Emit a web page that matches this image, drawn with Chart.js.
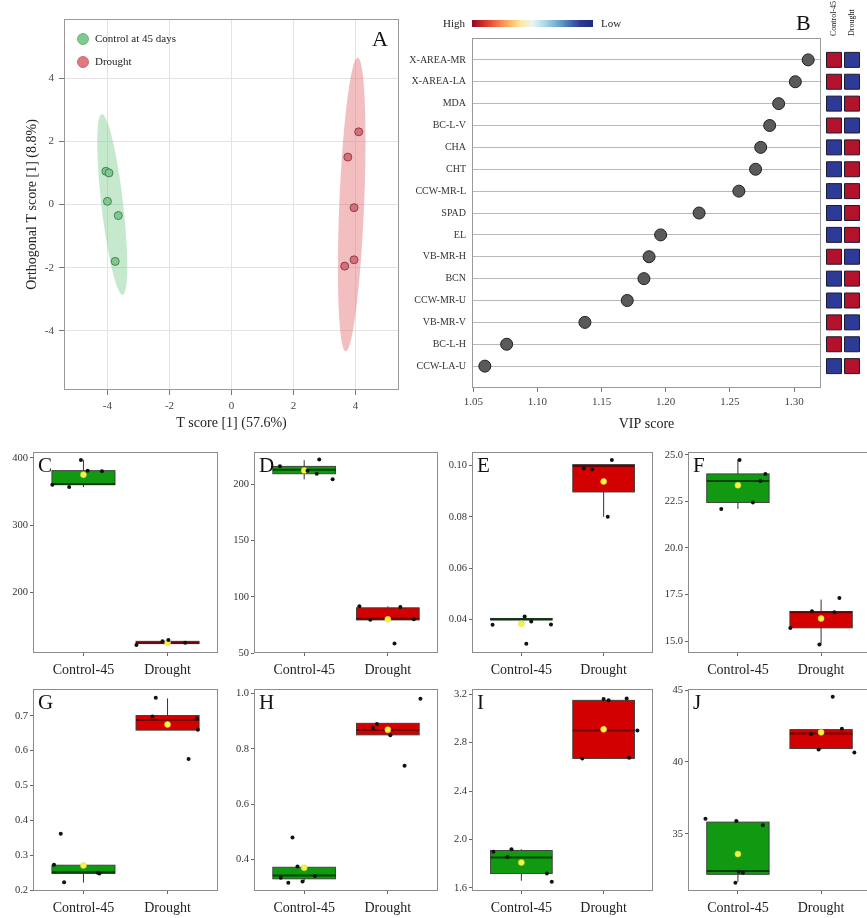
<!DOCTYPE html>
<html>
<head>
<meta charset="utf-8">
<script src="https://cdn.jsdelivr.net/npm/chart.js@4.4.1/dist/chart.umd.min.js"></script>
<style>
  html, body { margin: 0; padding: 0; background: #fff; }
  body { position: relative; width: 867px; height: 918px; overflow: hidden; }
</style>
</head>
<body>
<script>
// ---- A: OPLS-DA scores ----
const controlScores = [[-4.05, 1.05], [-3.95, 1.0], [-4.0, 0.1], [-3.65, -0.35], [-3.75, -1.8]];
const droughtScores = [[4.1, 2.3], [3.75, 1.5], [3.95, -0.1], [3.95, -1.75], [3.65, -1.95]];
// centre x, centre y, half length, half width, tilt from vertical (deg)
const controlEllipse = [-3.845, 0.0, 2.88, 0.35, -6.7];
const droughtEllipse = [3.875, 0.0, 4.65, 0.40, 2.4];

// ---- B: VIP scores ----
const vipVars = ['X-AREA-MR', 'X-AREA-LA', 'MDA', 'BC-L-V', 'CHA', 'CHT', 'CCW-MR-L', 'SPAD',
  'EL', 'VB-MR-H', 'BCN', 'CCW-MR-U', 'VB-MR-V', 'BC-L-H', 'CCW-LA-U'];
const vipScores = [1.311, 1.301, 1.288, 1.281, 1.274, 1.270, 1.257, 1.226,
  1.196, 1.187, 1.183, 1.170, 1.137, 1.076, 1.059];
const heatGroups = ['Control-45', 'Drought'];
const heatControl = [1, 1, 0, 1, 0, 0, 0, 0, 0, 1, 0, 0, 1, 1, 0];  // 1 = high
const heatDrought = [0, 0, 1, 0, 1, 1, 1, 1, 1, 0, 1, 1, 0, 0, 1];

// ---- C-J: box plots ----
const groups = ['Control-45', 'Drought'];
// per group: [lower whisker, q1, median, q3, upper whisker]
const statsC = [[356.5, 360, 361, 381, 397], [121.5, 123.5, 125, 127, 129]];
const meansC = [375, 125];
const ptsC = [[0.63, 360], [0.83, 356.5], [0.97, 397], [1.05, 381], [1.22, 380],
  [1.63, 121.5], [1.94, 127], [2.01, 129], [2.21, 125]];
const axisC = [109.6, 408.3, 0];  // min, max, decimals
const ticksC = [200, 300, 400];

const statsD = [[204.4, 209.4, 213, 216, 221.5], [79.4, 79.4, 80.5, 90.2, 91.5]];
const meansD = [212.3, 80];
const ptsD = [[0.71, 216], [1.04, 212], [1.15, 209.5], [1.18, 222], [1.34, 204.5],
  [1.66, 91.5], [1.79, 79.5], [2.15, 91], [2.31, 80], [2.08, 58.5]];
const axisD = [50, 228.5, 0];
const ticksD = [50, 100, 150, 200];

const statsE = [[0.0397, 0.0397, 0.04, 0.0403, 0.0403], [0.080, 0.0897, 0.0998, 0.1004, 0.1004]];
const meansE = [0.0382, 0.0938];
const ptsE = [[0.65, 0.0378], [1.04, 0.0411], [1.12, 0.0391], [1.36, 0.0379], [1.06, 0.0304],
  [1.76, 0.0989], [1.86, 0.0985], [2.1, 0.1022], [2.05, 0.080]];
const axisE = [0.0268, 0.1052, 2];
const ticksE = [0.04, 0.06, 0.08, 0.10];

const statsF = [[22.1, 22.44, 23.6, 23.98, 24.73], [14.82, 15.71, 16.55, 16.59, 17.23]];
const meansF = [23.37, 16.21];
const ptsF = [[0.8, 22.1], [1.02, 24.73], [1.18, 22.45], [1.27, 23.6], [1.33, 23.98],
  [1.63, 15.7], [1.89, 16.6], [1.98, 14.82], [2.16, 16.55], [2.22, 17.32]];
const axisF = [14.36, 25.14, 1];
const ticksF = [15, 17.5, 20, 22.5, 25];

const statsG = [[0.222, 0.248, 0.252, 0.272, 0.272], [0.659, 0.659, 0.688, 0.701, 0.75]];
const meansG = [0.271, 0.675];
const ptsG = [[0.65, 0.273], [0.73, 0.362], [0.77, 0.223], [1.17, 0.25], [1.19, 0.248],
  [1.86, 0.752], [1.82, 0.698], [2.35, 0.693], [2.36, 0.66], [2.25, 0.576]];
const axisG = [0.198, 0.776, 1];
const ticksG = [0.2, 0.3, 0.4, 0.5, 0.6, 0.7];

const statsH = [[0.32, 0.330, 0.342, 0.372, 0.372], [0.85, 0.851, 0.869, 0.893, 0.893]];
const meansH = [0.370, 0.87];
const ptsH = [[0.72, 0.334], [0.86, 0.48], [0.92, 0.375], [0.81, 0.316], [1.13, 0.34], [0.98, 0.32],
  [1.82, 0.876], [1.87, 0.89], [2.03, 0.85], [2.2, 0.739], [2.39, 0.982]];
const axisH = [0.286, 1.016, 1];
const ticksH = [0.4, 0.6, 0.8, 1.0];

const statsI = [[1.66, 1.719, 1.851, 1.91, 1.92], [2.67, 2.67, 2.90, 3.15, 3.165]];
const meansI = [1.81, 2.91];
const ptsI = [[0.66, 1.9], [0.88, 1.92], [0.83, 1.855], [1.31, 1.72], [1.37, 1.652],
  [1.74, 2.67], [2.0, 3.16], [2.06, 3.15], [2.28, 3.165], [2.31, 2.675], [2.41, 2.90]];
const axisI = [1.575, 3.241, 1];
const ticksI = [1.6, 2.0, 2.4, 2.8, 3.2];

const statsJ = [[31.67, 32.19, 32.42, 35.82, 35.95], [40.86, 40.93, 41.97, 42.25, 42.3]];
const meansJ = [33.6, 42.06];
const ptsJ = [[0.61, 36.05], [0.98, 35.9], [1.3, 35.6], [1.01, 32.37], [1.06, 32.3], [0.97, 31.6],
  [2.14, 44.53], [1.88, 41.95], [1.97, 40.86], [2.25, 42.3], [2.4, 40.65]];
const axisJ = [31.03, 45.05, 0];
const ticksJ = [35, 40, 45];

// layout of the small panels (plot area, px)
const panelLeft = [33, 254, 472, 688];
const panelW = [185, 184, 181, 183];
const panelTop = [452, 689];
const panelH = [201, 202];
const boxHalf = 0.375;
const boxFill = ['#119a11', '#d30000'];
const medianColor = ['rgba(0,45,0,0.8)', 'rgba(80,0,0,0.75)'];

const serif = "'Liberation Serif', 'Times New Roman', serif";
Chart.defaults.font.family = serif;
Chart.defaults.color = '#333';
Chart.defaults.animation = false;
Chart.defaults.events = [];
Chart.defaults.layout.autoPadding = false;
Chart.defaults.plugins.legend.display = false;
Chart.defaults.plugins.tooltip.enabled = false;

function makeCanvas(left, top, w, h) {
  const c = document.createElement('canvas');
  c.width = w;
  c.height = h;
  c.style.cssText = 'position:absolute;left:' + left + 'px;top:' + top + 'px;width:' + w + 'px;height:' + h + 'px';
  document.body.appendChild(c);
  return c;
}

function toXY(list) {
  return list.map(p => ({x: p[0], y: p[1]}));
}

function drawFrame(chart, color) {
  const {ctx, chartArea: a} = chart;
  ctx.save();
  ctx.strokeStyle = color;
  ctx.lineWidth = 1;
  ctx.strokeRect(Math.round(a.left) + 0.5, Math.round(a.top) + 0.5,
    Math.round(a.right - a.left) - 1, Math.round(a.bottom - a.top) - 1);
  ctx.restore();
}

// ---------- A ----------
const scoreExtras = {
  id: 'scoreExtras',
  beforeDatasetsDraw(chart) {
    const {ctx, scales: {x, y}} = chart;
    ctx.save();
    [[controlEllipse, 'rgba(120,200,135,0.42)'], [droughtEllipse, 'rgba(228,110,116,0.45)']].forEach(([e, col]) => {
      const [cx, cy, a, b, tilt] = e;
      const th = tilt * Math.PI / 180;
      ctx.beginPath();
      for (let k = 0; k <= 90; k++) {
        const t = k / 90 * 2 * Math.PI;
        const u = a * Math.cos(t), v = b * Math.sin(t);
        const px = x.getPixelForValue(cx + u * Math.sin(th) + v * Math.cos(th));
        const py = y.getPixelForValue(cy + u * Math.cos(th) - v * Math.sin(th));
        if (k) ctx.lineTo(px, py); else ctx.moveTo(px, py);
      }
      ctx.closePath();
      ctx.fillStyle = col;
      ctx.fill();
    });
    ctx.restore();
  },
  afterDraw(chart) {
    const {ctx} = chart;
    drawFrame(chart, '#9a9a9a');
    ctx.save();
    const items = [['Control at 45 days', '#7fcb8f', '#5ea86d'], ['Drought', '#e07a80', '#b85a60']];
    items.forEach(([label, fill, edge], i) => {
      const cy = 39 + i * 23;
      ctx.beginPath();
      ctx.arc(83, cy, 5.5, 0, 2 * Math.PI);
      ctx.fillStyle = fill;
      ctx.fill();
      ctx.strokeStyle = edge;
      ctx.lineWidth = 0.8;
      ctx.stroke();
      ctx.fillStyle = '#222';
      ctx.font = '11px ' + serif;
      ctx.textAlign = 'left';
      ctx.textBaseline = 'middle';
      ctx.fillText(label, 95, cy + 0.5);
    });
    ctx.font = '22px ' + serif;
    ctx.fillStyle = '#111';
    ctx.fillText('A', 372, 40);
    ctx.restore();
  }
};

new Chart(makeCanvas(0, 0, 410, 440), {
  type: 'scatter',
  data: {
    datasets: [
      {data: toXY(controlScores), backgroundColor: '#7fc990', borderColor: '#3a6a44', borderWidth: 0.8, pointRadius: 4},
      {data: toXY(droughtScores), backgroundColor: '#d66f77', borderColor: '#773036', borderWidth: 0.8, pointRadius: 4}
    ]
  },
  options: {
    responsive: false,
    layout: {padding: {top: 19, right: 11}},
    scales: {
      x: {
        min: -5.4, max: 5.4,
        afterFit: s => { s.height = 50; },
        ticks: {stepSize: 2, includeBounds: false, padding: 5, font: {size: 11}, color: '#444'},
        grid: {color: '#e3e3e3', tickColor: '#777', tickLength: 5},
        border: {display: false},
        title: {display: true, text: 'T score [1] (57.6%)', font: {size: 14}, color: '#222', padding: {top: 0, bottom: 8}}
      },
      y: {
        min: -5.87, max: 5.87,
        afterFit: s => { s.width = 64; },
        ticks: {stepSize: 2, includeBounds: false, padding: 5, font: {size: 11}, color: '#444'},
        grid: {color: '#e3e3e3', tickColor: '#777', tickLength: 5},
        border: {display: false},
        title: {display: true, text: 'Orthogonal T score [1] (8.8%)', font: {size: 14}, color: '#222', padding: {top: 23.5, bottom: 0}}
      }
    }
  },
  plugins: [scoreExtras]
});

// ---------- B ----------
const vipExtras = {
  id: 'vipExtras',
  afterDraw(chart) {
    const {ctx} = chart;
    drawFrame(chart, '#9a9a9a');
    ctx.save();
    const g = ctx.createLinearGradient(72, 0, 193, 0);
    ['#8b0a26', '#d73027', '#f46d43', '#fdae61', '#fee8a0', '#eaf5f5', '#abd9e9', '#74add1', '#4575b4', '#313695', '#1f2a80']
      .forEach((c, i, arr) => g.addColorStop(i / (arr.length - 1), c));
    ctx.fillStyle = g;
    ctx.fillRect(72, 20, 121, 7);
    ctx.font = '11px ' + serif;
    ctx.fillStyle = '#222';
    ctx.textBaseline = 'middle';
    ctx.textAlign = 'right';
    ctx.fillText('High', 65, 24);
    ctx.textAlign = 'left';
    ctx.fillText('Low', 201, 24);
    ctx.font = '22px ' + serif;
    ctx.fillStyle = '#111';
    ctx.fillText('B', 396, 24);
    ctx.restore();
  }
};

new Chart(makeCanvas(400, 0, 423, 440), {
  type: 'scatter',
  data: {
    datasets: [{
      data: vipScores.map((v, i) => ({x: v, y: i + 1})),
      pointRadius: 6, backgroundColor: '#5a5a5a', borderColor: '#1e1e1e', borderWidth: 1, clip: false
    }]
  },
  options: {
    responsive: false,
    layout: {padding: {top: 38, right: 2}},
    scales: {
      x: {
        min: 1.049, max: 1.321,
        afterFit: s => { s.height = 52; },
        ticks: {stepSize: 0.05, includeBounds: false, padding: 4, font: {size: 11}, color: '#444', callback: v => v.toFixed(2)},
        grid: {drawOnChartArea: false, tickLength: 4, tickColor: '#777'},
        border: {display: false},
        title: {display: true, text: 'VIP score', font: {size: 14}, color: '#222', padding: {top: 0, bottom: 7.5}}
      },
      y: {
        min: 0, max: 16, reverse: true,
        afterFit: s => { s.width = 72; },
        afterBuildTicks: s => { s.ticks = vipVars.map((_, i) => ({value: i + 1})); },
        ticks: {autoSkip: false, padding: 6, font: {size: 10}, color: '#333', callback: (v, i) => vipVars[i]},
        grid: {color: '#b8b8b8', drawTicks: false},
        border: {display: false}
      }
    }
  },
  plugins: [vipExtras]
});

// heat map next to B
const heatHeaders = {
  id: 'heatHeaders',
  afterDraw(chart) {
    const {ctx, scales: {x}} = chart;
    ctx.save();
    ctx.font = '8px ' + serif;
    ctx.fillStyle = '#222';
    ctx.textAlign = 'left';
    ctx.textBaseline = 'middle';
    heatGroups.forEach((g, i) => {
      ctx.save();
      ctx.translate(x.getPixelForValue(i), 36);
      ctx.rotate(-Math.PI / 2);
      ctx.fillText(g, 0, 0);
      ctx.restore();
    });
    ctx.restore();
  }
};

new Chart(makeCanvas(823, 0, 44, 440), {
  type: 'scatter',
  data: {
    datasets: [{
      data: heatControl.map((h, i) => ({x: heatGroups[0], y: i + 1}))
        .concat(heatDrought.map((h, i) => ({x: heatGroups[1], y: i + 1}))),
      backgroundColor: heatControl.concat(heatDrought).map(h => h ? '#b3122d' : '#2e3a98'),
      pointStyle: 'rect', pointRadius: 10.6, borderColor: '#1c1c2c', borderWidth: 1, clip: false
    }]
  },
  options: {
    responsive: false,
    layout: {padding: {left: 2, right: 6, bottom: 52}},
    scales: {
      x: {
        type: 'category', labels: heatGroups, position: 'top', offset: true,
        afterFit: s => { s.height = 38; },
        ticks: {display: false}, grid: {display: false}, border: {display: false}
      },
      y: {min: 0, max: 16, reverse: true, display: false}
    }
  },
  plugins: [heatHeaders]
});

// ---------- C-J ----------
function boxLayer(stats, letter) {
  return {
    id: 'boxLayer',
    beforeDatasetsDraw(chart) {
      const {ctx, scales: {x, y}} = chart;
      ctx.save();
      stats.forEach((s, i) => {
        const cx = x.getPixelForValue(i + 1);
        const x0 = x.getPixelForValue(i + 1 - boxHalf);
        const x1 = x.getPixelForValue(i + 1 + boxHalf);
        const [lo, q1, med, q3, hi] = s.map(v => y.getPixelForValue(v));
        ctx.strokeStyle = '#333';
        ctx.lineWidth = 1;
        ctx.beginPath();
        ctx.moveTo(cx, lo);
        ctx.lineTo(cx, hi);
        ctx.stroke();
        ctx.fillStyle = boxFill[i];
        ctx.fillRect(x0, q3, x1 - x0, q1 - q3);
        ctx.strokeStyle = '#3a3a3a';
        ctx.lineWidth = 0.9;
        ctx.strokeRect(x0, q3, x1 - x0, q1 - q3);
        ctx.strokeStyle = medianColor[i];
        ctx.lineWidth = 2;
        ctx.beginPath();
        ctx.moveTo(x0, med);
        ctx.lineTo(x1, med);
        ctx.stroke();
      });
      ctx.restore();
    },
    afterDatasetsDraw(chart) {
      const {ctx, chartArea: a} = chart;
      drawFrame(chart, '#8c8c8c');
      ctx.save();
      ctx.font = '21px ' + serif;
      ctx.fillStyle = '#111';
      ctx.textAlign = 'left';
      ctx.textBaseline = 'alphabetic';
      ctx.fillText(letter, a.left + 5, a.top + 20);
      ctx.restore();
    }
  };
}

function boxPanel(col, row, letter, stats, means, pts, axis, tickVals) {
  const L = panelLeft[col], T = panelTop[row], W = panelW[col], H = panelH[row];
  new Chart(makeCanvas(L - 33, T - 8, W + 37, H + 38), {
    type: 'scatter',
    data: {
      datasets: [
        {data: toXY(pts), pointRadius: 2, backgroundColor: '#111', borderWidth: 0, clip: false},
        {data: means.map((m, i) => ({x: i + 1, y: m})), pointRadius: 3, backgroundColor: '#f6f43c',
          borderColor: '#d9d64a', borderWidth: 0.5, clip: false}
      ]
    },
    options: {
      responsive: false,
      layout: {padding: {top: 8, right: 4}},
      scales: {
        x: {
          min: 0.4, max: 2.6,
          afterFit: s => { s.height = 30; },
          afterBuildTicks: s => { s.ticks = groups.map((_, i) => ({value: i + 1})); },
          ticks: {padding: 6, font: {size: 14}, color: '#222', callback: (v, i) => groups[i]},
          grid: {drawOnChartArea: false, tickLength: 3, tickColor: '#666'},
          border: {display: false}
        },
        y: {
          min: axis[0], max: axis[1],
          afterFit: s => { s.width = 33; },
          afterBuildTicks: s => { s.ticks = tickVals.map(v => ({value: v})); },
          ticks: {padding: 2, font: {size: 10.5}, color: '#333', callback: v => v.toFixed(axis[2])},
          grid: {drawOnChartArea: false, tickLength: 3, tickColor: '#666'},
          border: {display: false}
        }
      }
    },
    plugins: [boxLayer(stats, letter)]
  });
}

boxPanel(0, 0, 'C', statsC, meansC, ptsC, axisC, ticksC);
boxPanel(1, 0, 'D', statsD, meansD, ptsD, axisD, ticksD);
boxPanel(2, 0, 'E', statsE, meansE, ptsE, axisE, ticksE);
boxPanel(3, 0, 'F', statsF, meansF, ptsF, axisF, ticksF);
boxPanel(0, 1, 'G', statsG, meansG, ptsG, axisG, ticksG);
boxPanel(1, 1, 'H', statsH, meansH, ptsH, axisH, ticksH);
boxPanel(2, 1, 'I', statsI, meansI, ptsI, axisI, ticksI);
boxPanel(3, 1, 'J', statsJ, meansJ, ptsJ, axisJ, ticksJ);
</script>
</body>
</html>
